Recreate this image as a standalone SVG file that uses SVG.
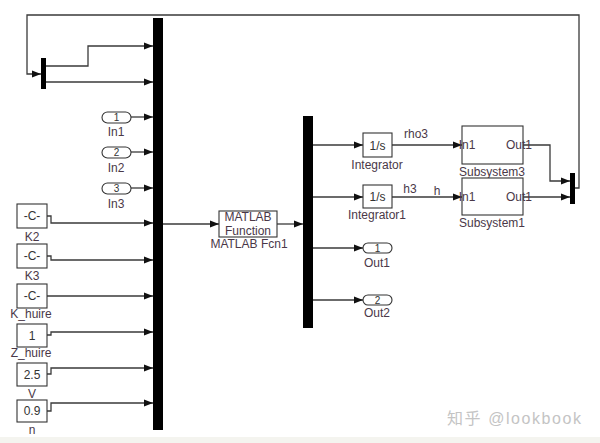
<svg xmlns="http://www.w3.org/2000/svg" width="600" height="443" viewBox="0 0 600 443">
<defs>
<marker id="ah" markerWidth="9" markerHeight="8" refX="9" refY="4" orient="auto" markerUnits="userSpaceOnUse">
<path d="M0,0.5 L9,4 L0,7.5 Z" fill="#111"/>
</marker>
<style>
.ln{fill:none;stroke:#3a3a3a;stroke-width:1.3;}
.ar{marker-end:url(#ah);}
.bar{fill:#000;}
.blk{fill:#fff;stroke:#333;stroke-width:1.1;}
.in{font-family:"Liberation Sans",Arial,sans-serif;font-size:12px;fill:#333;text-anchor:middle;}
.pn{font-family:"Liberation Sans",Arial,sans-serif;font-size:10px;fill:#333;text-anchor:middle;}
.lb{font-family:"Liberation Sans",Arial,sans-serif;font-size:12px;fill:#4a3848;text-anchor:middle;}
.port{fill:#fff;stroke:#333;stroke-width:1.1;}
</style>
</defs>
<rect width="600" height="443" fill="#fff"/>
<rect x="0" y="437" width="600" height="6" fill="#f4f4ef"/>

<g id="connectors">
<polyline class="ln ar" points="575,188 579,188 579,15 27,15 27,74 41,74"/>
<polyline class="ln ar" points="46,66 88,66 88,46 153,46"/>
<polyline class="ln ar" points="46,82 153,82"/>
<polyline class="ln ar" points="131,117 153,117"/>
<polyline class="ln ar" points="131,152 153,152"/>
<polyline class="ln ar" points="131,188 153,188"/>
<polyline class="ln ar" points="47,216 51,216 51,223 153,223"/>
<polyline class="ln ar" points="47,256 51,256 51,260 153,260"/>
<polyline class="ln ar" points="47,296 153,296"/>
<polyline class="ln ar" points="47,335 51,335 51,332 153,332"/>
<polyline class="ln ar" points="47,374 51,374 51,368 153,368"/>
<polyline class="ln ar" points="47,411 51,411 51,403 153,403"/>
<polyline class="ln ar" points="163,224 219,224"/>
<polyline class="ln ar" points="277,224 303,224"/>
<polyline class="ln ar" points="313,145 363,145"/>
<polyline class="ln ar" points="313,197 363,197"/>
<polyline class="ln ar" points="313,248 363,248"/>
<polyline class="ln ar" points="313,300 363,300"/>
<polyline class="ln ar" points="392,145 462,145"/>
<polyline class="ln ar" points="392,197 462,197"/>
<polyline class="ln ar" points="523,145 550,145 550,181 570,181"/>
<polyline class="ln ar" points="523,197 570,197"/>
<text class="lb" x="416" y="138">rho3</text>
<text class="lb" x="410" y="193">h3</text>
<text class="lb" x="437" y="195">h</text>
</g>

<g id="mux_small"><rect class="bar" x="41" y="58" width="5" height="31"/></g>
<g id="bus1"><rect class="bar" x="153" y="18" width="10" height="412"/></g>
<g id="bus2"><rect class="bar" x="303" y="116" width="10" height="212"/></g>
<g id="mux_right"><rect class="bar" x="570" y="173" width="5" height="31"/></g>

<g id="In1"><rect class="port" x="102" y="112" width="29" height="11" rx="5.5"/><text class="pn" x="116.5" y="121">1</text><text class="lb" x="116" y="136">In1</text></g>
<g id="In2"><rect class="port" x="102" y="147" width="29" height="11" rx="5.5"/><text class="pn" x="116.5" y="156">2</text><text class="lb" x="116" y="172">In2</text></g>
<g id="In3"><rect class="port" x="102" y="183" width="29" height="11" rx="5.5"/><text class="pn" x="116.5" y="192">3</text><text class="lb" x="116" y="208">In3</text></g>

<g id="K2"><rect class="blk" x="17" y="204" width="30" height="24"/><text class="in" x="32" y="220">-C-</text><text class="lb" x="32" y="241">K2</text></g>
<g id="K3"><rect class="blk" x="17" y="244" width="30" height="24"/><text class="in" x="32" y="260">-C-</text><text class="lb" x="32" y="280">K3</text></g>
<g id="K_huire"><rect class="blk" x="17" y="284" width="30" height="24"/><text class="in" x="32" y="300">-C-</text><text class="lb" x="31" y="318">K_huire</text></g>
<g id="Z_huire"><rect class="blk" x="17" y="324" width="30" height="23"/><text class="in" x="32" y="340">1</text><text class="lb" x="31" y="357">Z_huire</text></g>
<g id="V"><rect class="blk" x="17" y="363" width="30" height="23"/><text class="in" x="32" y="379">2.5</text><text class="lb" x="32" y="398">V</text></g>
<g id="n"><rect class="blk" x="17" y="400" width="30" height="22"/><text class="in" x="32" y="415">0.9</text><text class="lb" x="32" y="434">n</text></g>

<g id="MATLAB_Fcn1"><rect class="blk" x="219" y="211" width="58" height="26"/><text class="lb" x="248" y="221" font-size="10.5">MATLAB</text><text class="lb" x="248" y="234.5" font-size="10.5">Function</text><text class="lb" x="249" y="248">MATLAB Fcn1</text></g>

<g id="Integrator"><rect class="blk" x="363" y="133" width="29" height="24"/><text class="in" x="377.5" y="149.5">1/s</text><text class="lb" x="377" y="169">Integrator</text></g>
<g id="Integrator1"><rect class="blk" x="363" y="185" width="29" height="23"/><text class="in" x="377.5" y="201">1/s</text><text class="lb" x="377" y="219">Integrator1</text></g>

<g id="Subsystem3"><rect class="blk" x="462" y="126" width="61" height="38"/><text class="lb" x="467" y="149" text-anchor="start">In1</text><text class="lb" x="519" y="149" text-anchor="end">Out1</text><text class="lb" x="492" y="176">Subsystem3</text></g>
<g id="Subsystem1"><rect class="blk" x="462" y="178" width="61" height="37"/><text class="lb" x="467" y="201" text-anchor="start">In1</text><text class="lb" x="519" y="201" text-anchor="end">Out1</text><text class="lb" x="492" y="227">Subsystem1</text></g>

<g id="Out1"><rect class="port" x="363" y="243" width="29" height="10" rx="5"/><text class="pn" x="377.5" y="251.5">1</text><text class="lb" x="377" y="267">Out1</text></g>
<g id="Out2"><rect class="port" x="363" y="295" width="29" height="10" rx="5"/><text class="pn" x="377.5" y="303.5">2</text><text class="lb" x="377" y="317">Out2</text></g>

<text x="447" y="424" font-family="'Liberation Sans','Noto Sans CJK SC',sans-serif" font-size="16" fill="#c4c4c4" textLength="134">知乎 @lookbook</text>
</svg>
